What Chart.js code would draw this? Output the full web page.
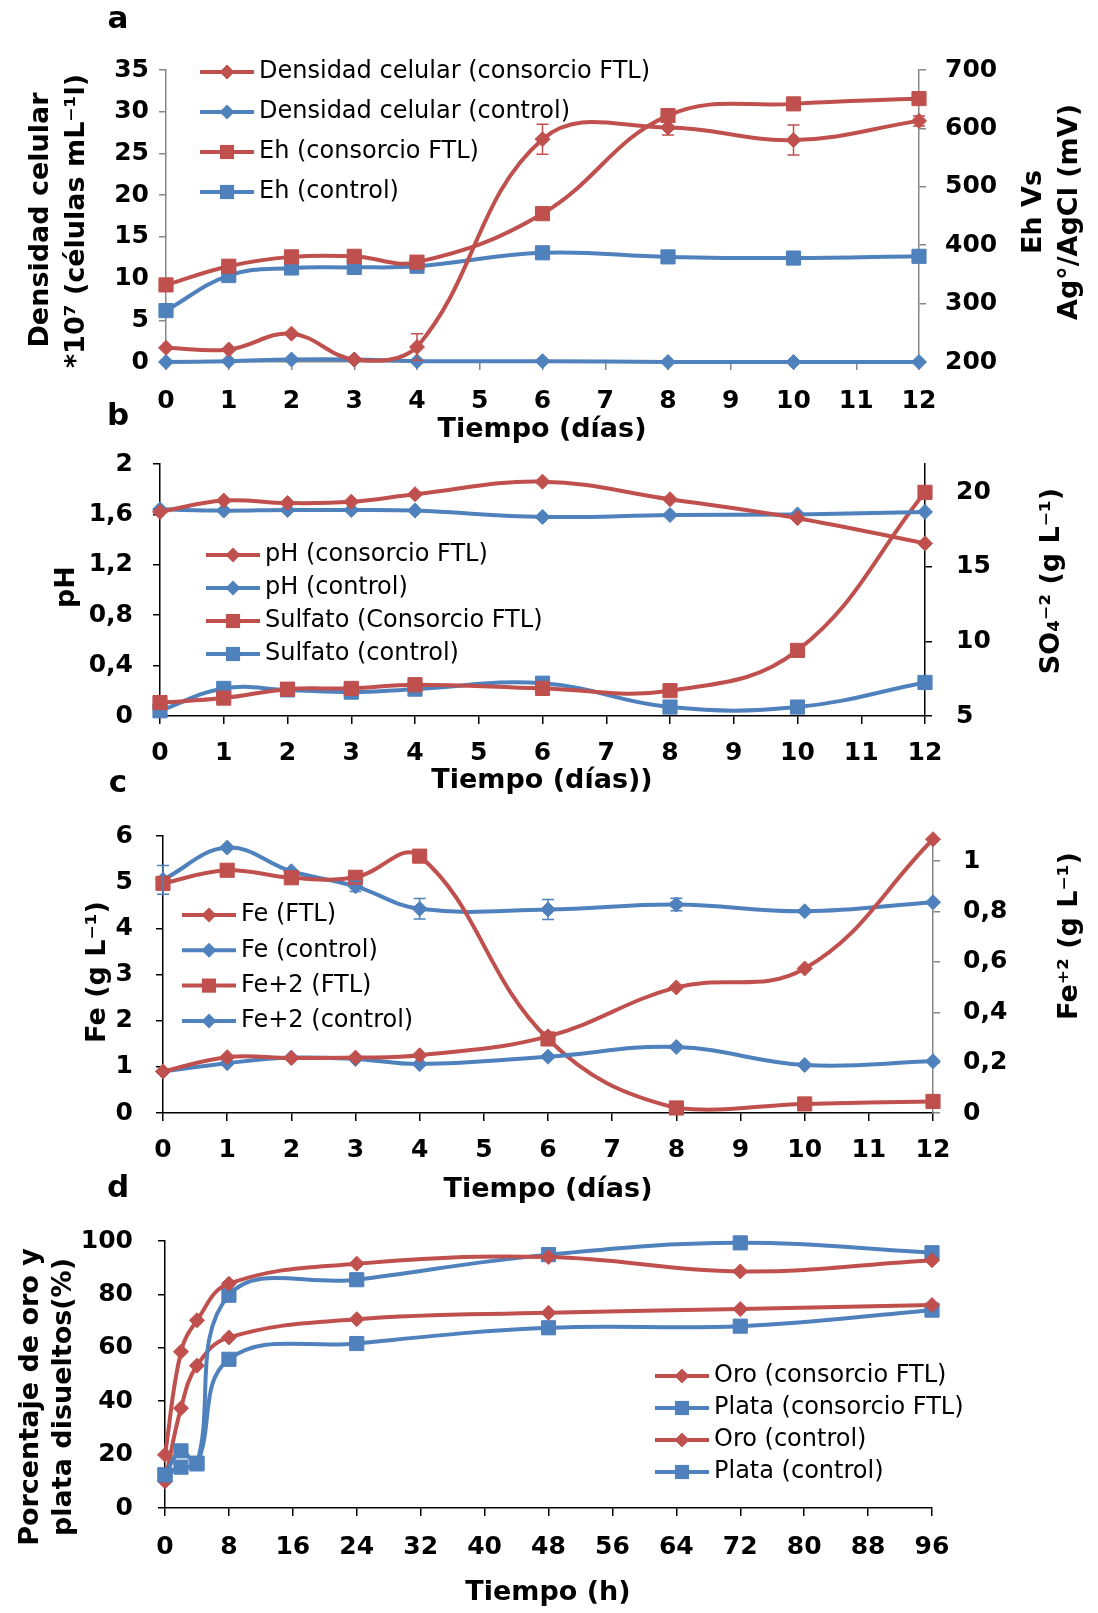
<!DOCTYPE html>
<html>
<head>
<meta charset="utf-8">
<script src="https://cdn.jsdelivr.net/npm/chart.js@4.4.1/dist/chart.umd.min.js"></script>
<style>
html,body{margin:0;padding:0;background:#fff}
#hoja{position:relative;width:1098px;height:1613px;background:#fff}
#hoja canvas{position:absolute;left:0;top:0}
</style>
</head>
<body>
<div id="hoja">
<canvas id="graficoA" width="1098" height="1613"></canvas>
<canvas id="graficoB" width="1098" height="1613"></canvas>
<canvas id="graficoC" width="1098" height="1613"></canvas>
<canvas id="graficoD" width="1098" height="1613"></canvas>
</div>
<script>
// ---- datos ----
var dias = [0,1,2,3,4,6,8,10,12]
var horas = [0,2,4,8,24,48,72,96]

// a
var densidadFTL = [1.7,1.5,3.4,0.3,1.8,26.7,28.1,26.6,28.9]
var densidadFTLerr = [0,0,0,0,1.6,1.8,0.9,1.8,0.6]
var densidadControl = [0,0.1,0.3,0.3,0.1,0.1,0,0,0]
var ehFTL = [332,364,380,381,371,454,622,642,651]
var ehControl = [288,348,361,362,364,387,380,378,381]

// b
var phFTL = [1.62,1.71,1.69,1.70,1.76,1.86,1.72,1.57,1.37]
var phControl = [1.64,1.63,1.635,1.635,1.63,1.58,1.595,1.60,1.62]
var sulfatoFTL = [5.9,6.2,6.8,6.85,7.1,6.85,6.7,9.4,20.0]
var sulfatoControl = [5.35,6.85,6.75,6.6,6.8,7.2,5.6,5.6,7.25]

// c
var feFTL = [0.9,1.21,1.19,1.2,1.25,1.66,2.72,3.13,5.93]
var feControl = [0.9,1.08,1.2,1.17,1.06,1.22,1.43,1.04,1.12]
var fe2FTL = [0.912,0.964,0.934,0.936,1.02,0.294,0.02,0.036,0.046]
var fe2Control = [0.926,1.054,0.96,0.9,0.811,0.808,0.828,0.801,0.837]
var fe2ControlErr = [0.057,0,0,0.02,0.041,0.04,0.025,0,0]

// d
var oroFTL = [19.9,58.5,70.3,84,91.5,94,88.6,92.8]
var plataFTL = [12.4,21.4,16.8,79.7,85.5,94.9,99.3,95.6]
var oroControl = [10,37.4,53.3,63.9,70.7,73.1,74.5,76]
var plataControl = [12.4,15.3,16.5,55.7,61.6,67.5,68.1,74.1]

// ticks
var ticksDias = [0,1,2,3,4,5,6,7,8,9,10,11,12]
var ticksHoras = [0,8,16,24,32,40,48,56,64,72,80,88,96]
var ticksDensidad = [0,5,10,15,20,25,30,35]
var ticksEh = [200,300,400,500,600,700]
var ticksPH = [0,0.4,0.8,1.2,1.6,2]
var ticksSulfato = [5,10,15,20]
var ticksFe = [0,1,2,3,4,5,6]
var ticksFe2 = [0,0.2,0.4,0.6,0.8,1]
var ticksPorcentaje = [0,20,40,60,80,100]

// ---- estilos ----
var ROJO = '#C0504D', AZUL = '#4F81BD', GRIS = '#868686', NEGRO = '#000000'
var fuenteTicks = {family:'DejaVu Sans', size:25, weight:'bold'}
var fuenteTitulo = 'bold 27px "DejaVu Sans"'
var ANCHO = 1098, ALTO = 1613

function puntos(xs,ys){
    return xs.map(function(x,i){ return {x:x, y:ys[i]} })
}
function coma(v){ return String(v).replace('.',',') }

function serie(label,xs,ys,color,estilo,eje,err){
    return {
        label:label, data:puntos(xs,ys), yAxisID:eje,
        borderColor:color, backgroundColor:color, borderWidth:4, tension:0.4,
        pointStyle:estilo, pointRadius: estilo=='rect' ? 10 : 7.5,
        pointBorderWidth:1, pointBackgroundColor:color, pointBorderColor:color,
        clip:false, errores:err
    }
}

function ejeY(pos,min,max,ticks,color,ancho,pad){
    return {
        type:'linear', position:pos, min:min, max:max,
        afterBuildTicks:function(s){ s.ticks = ticks.map(function(v){ return {value:v} }) },
        afterFit:function(s){ s.width = ancho },
        grid:{drawOnChartArea:false, drawTicks:true, tickLength:7, color:color, lineWidth:1.5},
        border:{display:true, color:color, width:1.5},
        ticks:{font:fuenteTicks, color:'#000', padding:pad, callback:function(v){ return coma(v) }}
    }
}
function ejeX(max,ticks,color,alto,pad){
    return {
        type:'linear', position:'bottom', min:0, max:max,
        afterBuildTicks:function(s){ s.ticks = ticks.map(function(v){ return {value:v} }) },
        afterFit:function(s){ s.height = alto },
        grid:{drawOnChartArea:false, drawTicks:true, tickLength:8, color:color, lineWidth:1.5},
        border:{display:true, color:color, width:1.5},
        ticks:{font:fuenteTicks, color:'#000', padding:pad, autoSkip:false, maxRotation:0,
               callback:function(v){ return String(v) }}
    }
}

function marcador(ctx,estilo,x,y,r,color){
    ctx.fillStyle = color
    ctx.beginPath()
    if(estilo=='rect'){
        var s = r*Math.SQRT1_2
        ctx.rect(x-s,y-s,2*s,2*s)
    } else {
        ctx.moveTo(x,y-r); ctx.lineTo(x+r,y); ctx.lineTo(x,y+r); ctx.lineTo(x-r,y); ctx.closePath()
    }
    ctx.fill()
}

function pluginLeyenda(x,y,dy){
    return {id:'leyenda', afterDraw:function(chart){
        var ctx = chart.ctx
        chart.data.datasets.forEach(function(ds,i){
            var yy = y + i*dy
            ctx.save()
            ctx.strokeStyle = ds.borderColor
            ctx.lineWidth = 4
            ctx.beginPath(); ctx.moveTo(x,yy); ctx.lineTo(x+54,yy); ctx.stroke()
            marcador(ctx, ds.pointStyle, x+27, yy, ds.pointRadius, ds.borderColor)
            ctx.fillStyle = '#000'
            ctx.font = '24px "DejaVu Sans"'
            ctx.textBaseline = 'middle'
            ctx.textAlign = 'left'
            ctx.fillText(ds.label, x+59, yy)
            ctx.restore()
        })
    }}
}

function pluginTitulos(lista){
    return {id:'titulos', afterDraw:function(chart){
        var ctx = chart.ctx
        lista.forEach(function(t){
            ctx.save()
            ctx.translate(t[1],t[2])
            if(t[3]) ctx.rotate(-Math.PI/2)
            ctx.font = t[4] || fuenteTitulo
            ctx.fillStyle = '#000'
            ctx.textAlign = 'center'
            ctx.textBaseline = 'middle'
            ctx.fillText(t[0],0,0)
            ctx.restore()
        })
    }}
}

var pluginErrores = {id:'errores', afterDatasetsDraw:function(chart){
    var ctx = chart.ctx
    chart.data.datasets.forEach(function(ds,i){
        if(!ds.errores) return
        var meta = chart.getDatasetMeta(i)
        ctx.save()
        ctx.strokeStyle = ds.borderColor
        ctx.lineWidth = 1.5
        ds.data.forEach(function(p,j){
            var e = ds.errores[j]
            if(!e) return
            var x = meta.xScale.getPixelForValue(p.x)
            var y1 = meta.yScale.getPixelForValue(p.y+e)
            var y2 = meta.yScale.getPixelForValue(p.y-e)
            ctx.beginPath()
            ctx.moveTo(x,y1); ctx.lineTo(x,y2)
            ctx.moveTo(x-6,y1); ctx.lineTo(x+6,y1)
            ctx.moveTo(x-6,y2); ctx.lineTo(x+6,y2)
            ctx.stroke()
        })
        ctx.restore()
    })
}}

function dibujar(id,datasets,escalas,arriba,derecha,leyenda,titulos){
    var ctx = document.getElementById(id).getContext('2d')
    return new Chart(ctx,{
        type:'line',
        data:{datasets:datasets},
        options:{
            responsive:false, animation:false, events:[], devicePixelRatio:1,
            layout:{padding:{top:arriba, left:0, right:derecha, bottom:0}},
            plugins:{legend:{display:false}, tooltip:{enabled:false}},
            scales:escalas
        },
        plugins:[pluginErrores, pluginLeyenda(leyenda[0],leyenda[1],leyenda[2]), pluginTitulos(titulos)]
    })
}

// ---- a ----
dibujar('graficoA',[
    serie('Densidad celular (consorcio FTL)',dias,densidadFTL,ROJO,'rectRot','y',densidadFTLerr),
    serie('Densidad celular (control)',dias,densidadControl,AZUL,'rectRot','y'),
    serie('Eh (consorcio FTL)',dias,ehFTL,ROJO,'rect','y2'),
    serie('Eh (control)',dias,ehControl,AZUL,'rect','y2')
],{
    x:ejeX(12,ticksDias,GRIS,ALTO-362,16),
    y:ejeY('left',0,35,ticksDensidad,GRIS,166,10),
    y2:ejeY('right',200,700,ticksEh,GRIS,ANCHO-919,19)
},70,0,[200,72,40],[
    ['a',118,20,false,'bold 31px "DejaVu Sans"'],
    ['Densidad celular',41,220,true],
    ['*10\u2077 (células mL\u207B\u00B9l)',77,221,true],
    ['Eh Vs',1034,212,true],
    ['Ag°/AgCl (mV)',1070,212,true],
    ['Tiempo (días)',542,430,false]
])

// ---- b ----
dibujar('graficoB',[
    serie('pH (consorcio FTL)',dias,phFTL,ROJO,'rectRot','y'),
    serie('pH (control)',dias,phControl,AZUL,'rectRot','y'),
    serie('Sulfato (Consorcio FTL)',dias,sulfatoFTL,ROJO,'rect','y2'),
    serie('Sulfato (control)',dias,sulfatoControl,AZUL,'rect','y2')
],{
    x:ejeX(12,ticksDias,NEGRO,ALTO-716,14),
    y:ejeY('left',0,2,ticksPH,NEGRO,160,20),
    y2:ejeY('right',5,21.9,ticksSulfato,NEGRO,ANCHO-925,24)
},464,0,[206,555,33],[
    ['b',118,417,false,'bold 31px "DejaVu Sans"'],
    ['pH',67,587,true],
    ['SO\u2084\u207B\u00B2 (g L\u207B\u00B9)',1052,581,true],
    ['Tiempo (días))',542,781,false]
])

// ---- c ----
dibujar('graficoC',[
    serie('Fe (FTL)',dias,feFTL,ROJO,'rectRot','y'),
    serie('Fe (control)',dias,feControl,AZUL,'rectRot','y'),
    serie('Fe+2 (FTL)',dias,fe2FTL,ROJO,'rect','y2'),
    serie('Fe+2 (control)',dias,fe2Control,AZUL,'rectRot','y2',fe2ControlErr)
],{
    x:ejeX(12,ticksDias,NEGRO,ALTO-1113,14),
    y:ejeY('left',0,6,ticksFe,NEGRO,163,23),
    y2:ejeY('right',0,1.1,ticksFe2,GRIS,ANCHO-933,23)
},836,0,[182,915,35.3],[
    ['c',118,784,false,'bold 31px "DejaVu Sans"'],
    ['Fe (g L\u207B\u00B9)',98,972,true],
    ['Fe\u207A\u00B2 (g L\u207B\u00B9)',1070,936,true],
    ['Tiempo (días)',548,1190,false]
])

// ---- d ----
dibujar('graficoD',[
    serie('Oro (consorcio FTL)',horas,oroFTL,ROJO,'rectRot','y'),
    serie('Plata (consorcio FTL)',horas,plataFTL,AZUL,'rect','y'),
    serie('Oro (control)',horas,oroControl,ROJO,'rectRot','y'),
    serie('Plata (control)',horas,plataControl,AZUL,'rect','y')
],{
    x:ejeX(96,ticksHoras,NEGRO,ALTO-1508,16),
    y:ejeY('left',0,100,ticksPorcentaje,NEGRO,165,25)
},1241,ANCHO-932,[655,1376,32],[
    ['d',118,1189,false,'bold 31px "DejaVu Sans"'],
    ['Porcentaje de oro y',31,1397,true],
    ['plata disueltos(%)',64,1397,true],
    ['Tiempo (h)',548,1593,false]
])
</script>
</body>
</html>
